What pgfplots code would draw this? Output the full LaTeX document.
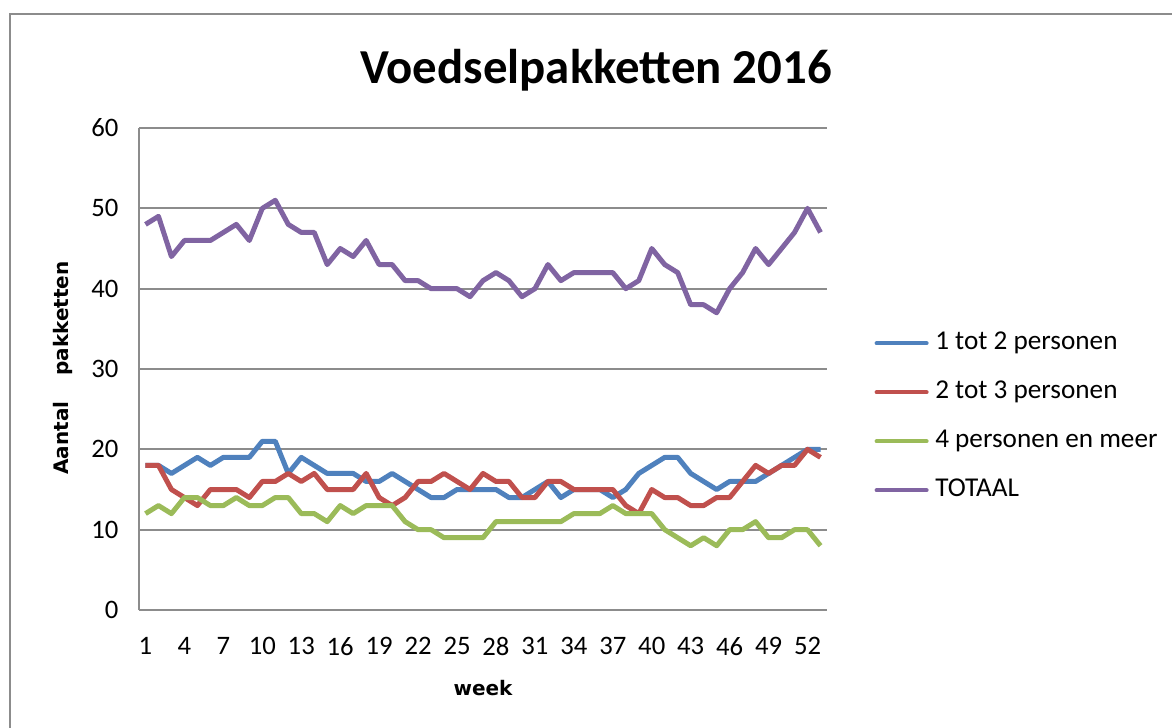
\documentclass[border=0pt]{standalone}
\usepackage{pgfplots}
\usepackage{pgfplotstable}
\pgfplotsset{compat=1.18}
\usepackage{fontspec}
\setmainfont{Carlito}
\newfontfamily\labelfont{DejaVu Sans}
\definecolor{cblue}{HTML}{4F81BD}
\definecolor{cred}{HTML}{C0504D}
\definecolor{cgreen}{HTML}{9BBB59}
\definecolor{cpurple}{HTML}{8064A2}
\definecolor{cgrid}{HTML}{8C8C8C}
\pgfplotstableread{
week a b c t
1 18 18 12 48
2 18 18 13 49
3 17 15 12 44
4 18 14 14 46
5 19 13 14 46
6 18 15 13 46
7 19 15 13 47
8 19 15 14 48
9 19 14 13 46
10 21 16 13 50
11 21 16 14 51
12 17 17 14 48
13 19 16 12 47
14 18 17 12 47
15 17 15 11 43
16 17 15 13 45
17 17 15 12 44
18 16 17 13 46
19 16 14 13 43
20 17 13 13 43
21 16 14 11 41
22 15 16 10 41
23 14 16 10 40
24 14 17 9 40
25 15 16 9 40
26 15 15 9 39
27 15 17 9 41
28 15 16 11 42
29 14 16 11 41
30 14 14 11 39
31 15 14 11 40
32 16 16 11 43
33 14 16 11 41
34 15 15 12 42
35 15 15 12 42
36 15 15 12 42
37 14 15 13 42
38 15 13 12 40
39 17 12 12 41
40 18 15 12 45
41 19 14 10 43
42 19 14 9 42
43 17 13 8 38
44 16 13 9 38
45 15 14 8 37
46 16 14 10 40
47 16 16 10 42
48 16 18 11 45
49 17 17 9 43
50 18 18 9 45
51 19 18 10 47
52 20 20 10 50
53 20 19 8 47
}\datatable
\begin{document}
\begin{tikzpicture}
\path[use as bounding box] (0pt,0pt) rectangle (879pt,-546pt);
\draw[cgrid, line width=1.5pt] (7.5pt,-546pt) -- (7.5pt,-10.5pt) -- (879pt,-10.5pt);
\node[font=\fontsize{36.6}{40}\selectfont\bfseries] at (447pt,-52.5pt) {Voedselpakketten 2016};
\node[font=\labelfont\fontsize{15}{18}\selectfont\bfseries, rotate=90] at (47.25pt,-276pt) {Aantal\hspace{1.3em}pakketten};
\node[font=\labelfont\fontsize{15}{18}\selectfont\bfseries] at (362.25pt,-516pt) {week};
\begin{axis}[
  at={(104.25pt,-457.5pt)}, anchor=south west,
  scale only axis, width=516pt, height=361.5pt,
  xmin=0.5, xmax=53.5, ymin=0, ymax=60,
  xtick={1,4,...,52}, ytick={0,10,...,60},
  axis x line*=bottom, axis y line*=left,
  axis line style={cgrid, line width=1.5pt, -},
  ymajorgrids, grid style={cgrid, line width=1.5pt},
  major tick length=0pt,
  tick label style={font=\fontsize{20}{24}\selectfont},
  /pgf/number format/assume math mode=true,
  yticklabel style={xshift=-12pt},
  xticklabel style={yshift=-17pt},
  legend style={draw=none, fill=none, at={(1.063,0.401)}, anchor=west,
    font=\fontsize{20.4}{24}\selectfont,
    nodes={inner sep=0pt, text height=13pt, text depth=4pt},
    row sep=19.75pt, column sep=0pt},
  legend cell align=left,
  legend image code/.code={\draw[#1, line width=3pt, line cap=round] (0pt,0pt) -- (37.5pt,0pt);},
  every axis plot/.append style={line width=3.75pt, line join=round, no markers},
]
\addplot[cblue] table[x=week, y=a] {\datatable};
\addlegendentry{\hspace{5pt}1 tot 2 personen}
\addplot[cred] table[x=week, y=b] {\datatable};
\addlegendentry{\hspace{5pt}2 tot 3 personen}
\addplot[cgreen] table[x=week, y=c] {\datatable};
\addlegendentry{\hspace{5pt}4 personen en meer}
\addplot[cpurple] table[x=week, y=t] {\datatable};
\addlegendentry{\hspace{5pt}TOTAAL}
\end{axis}
\end{tikzpicture}
\end{document}
